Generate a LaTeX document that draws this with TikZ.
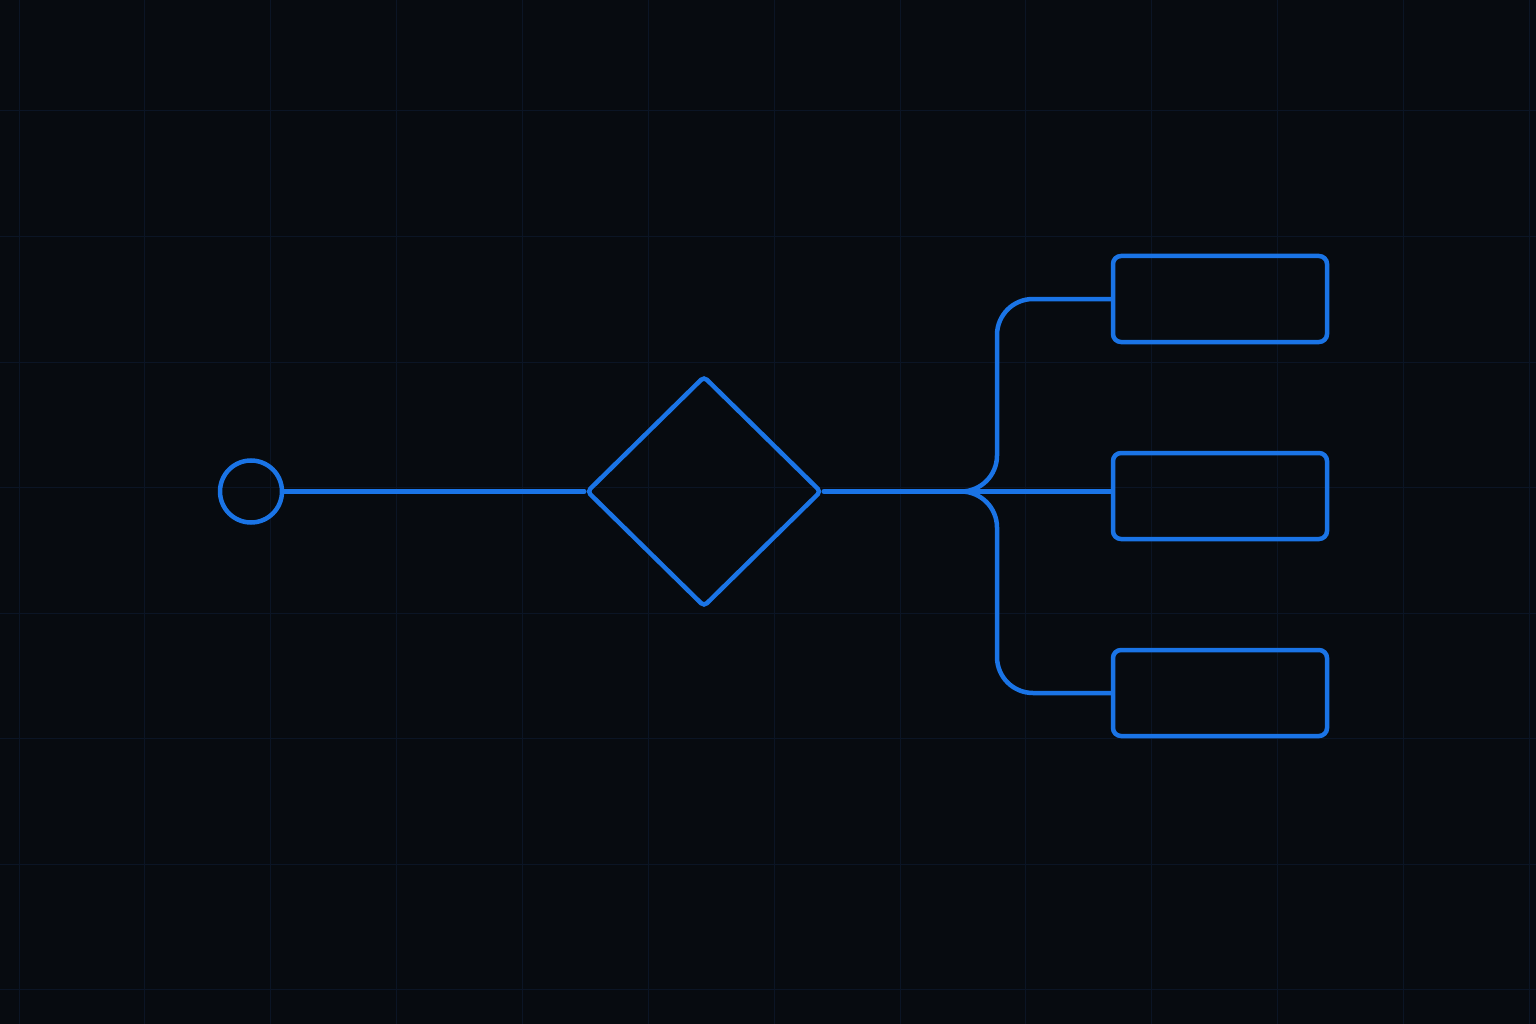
\documentclass[tikz,border=0pt]{standalone}
\usetikzlibrary{shapes.geometric}
\definecolor{bgc}{HTML}{070B10}
\definecolor{gridc}{HTML}{0B1525}
\definecolor{flow}{HTML}{1A74E6}
\tikzset{
  flowline/.style={draw=flow, line width=4.5pt},
  startnode/.style={circle, flowline, minimum size=62pt, inner sep=0pt},
  decnode/.style={diamond, flowline, minimum width=235pt, minimum height=231pt, inner sep=0pt, rounded corners=4pt},
  boxnode/.style={rectangle, flowline, minimum width=214pt, minimum height=86pt, inner sep=0pt, rounded corners=8pt},
  conn/.style={flowline, line cap=round},
  gridline/.style={draw=gridc, line width=1pt}
}
\begin{document}
\begin{tikzpicture}[x=1pt, y=-1pt]
  \fill[bgc] (0,0) rectangle (1536,1024);
  \useasboundingbox (0,0) rectangle (1536,1024);
  \foreach \k in {0,...,12} {
    \draw[gridline] ({19.1+125.86*\k},0) -- ({19.1+125.86*\k},1024);
  }
  \foreach \k in {0,...,7} {
    \draw[gridline] (0,{111+125.5*\k}) -- (1536,{111+125.5*\k});
  }
  \node[startnode] (start) at (251,491.5) {};
  \node[decnode] (dec) at (704,491.5) {};
  \node[boxnode] (b1) at (1220,299) {};
  \node[boxnode] (b2) at (1220,496) {};
  \node[boxnode] (b3) at (1220,693) {};
  \coordinate (j) at (961,491.5);
  \coordinate (bx) at (997,491.5);
  \draw[conn] (start.east) -- (dec.west);
  \draw[conn] (dec.east) -- (j);
  \draw[conn] (j) -- (j -| b2.west);
  \draw[conn, rounded corners=36pt] (j) -- (bx) |- (b1.west);
  \draw[conn, rounded corners=36pt] (j) -- (bx) |- (b3.west);
\end{tikzpicture}
\end{document}
